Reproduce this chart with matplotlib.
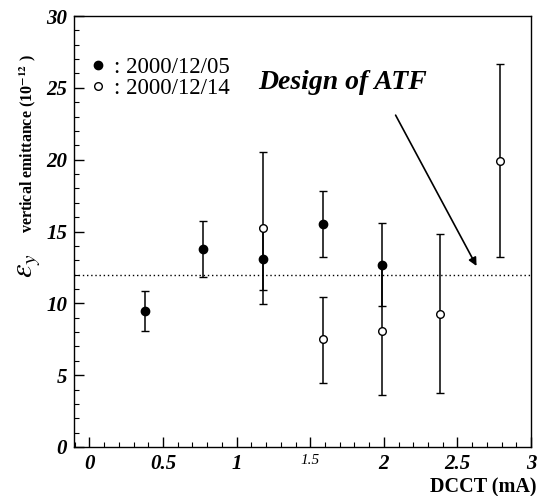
import numpy as np
import matplotlib.pyplot as plt
from matplotlib.ticker import MultipleLocator

# emittance measurements, two dates
# 2000/12/05 (filled)
x_a = np.array([0.38, 0.77, 1.18, 1.59, 1.99])
y_a = np.array([9.46, 13.8, 13.1, 15.5, 12.7])
lo_a = np.array([8.1, 11.8, 10.9, 13.2, 9.8])
hi_a = np.array([10.85, 15.75, 15.3, 17.85, 15.6])

# 2000/12/14 (open)
x_b = np.array([1.18, 1.59, 1.99, 2.385, 2.79])
y_b = np.array([15.27, 7.5, 8.1, 9.25, 19.9])
lo_b = np.array([9.97, 4.46, 3.65, 3.79, 13.25])
hi_b = np.array([20.5, 10.46, 12.55, 14.8, 26.65])

design = 12.0

xticks = [0, 0.5, 1, 1.5, 2, 2.5, 3]
xtick_labels = ['0', '0.5', '1', '1.5', '2', '2.5', '3']
yticks = [0, 5, 10, 15, 20, 25, 30]

plt.rcParams['font.family'] = ['Liberation Serif', 'DejaVu Serif']
plt.rcParams['mathtext.fontset'] = 'stix'

fig = plt.figure(figsize=(5.45, 4.96), dpi=100)
ax = fig.add_axes([0.1358, 0.0988, 0.8385, 0.8689])

# error bars first, then markers on top
ax.errorbar(x_a, y_a, yerr=[y_a - lo_a, hi_a - y_a], fmt='none',
            ecolor='black', elinewidth=1.1, capsize=3, capthick=1)
ax.errorbar(x_b, y_b, yerr=[y_b - lo_b, hi_b - y_b], fmt='none',
            ecolor='black', elinewidth=1.1, capsize=3, capthick=1)
ax.plot(x_a, y_a, 'o', color='black', markersize=6, label=': 2000/12/05')
ax.plot(x_b, y_b, 'o', markerfacecolor='white', markeredgecolor='black',
        markeredgewidth=1, markersize=5.5, label=': 2000/12/14')

ax.axhline(design, color='black', linestyle=(0, (1, 2)), linewidth=1)

ax.annotate('', xy=(2.63, 12.6), xytext=(2.08, 23.1),
            arrowprops=dict(arrowstyle='-|>', color='black', lw=1.2,
                            mutation_scale=12, shrinkA=0, shrinkB=0))
ax.text(1.145, 25.4, 'Design of ATF', fontsize=20, fontweight='bold',
        fontstyle='italic', ha='left', va='center')

ax.set_xlim(-0.105, 3.0)
ax.set_ylim(0, 30)
ax.set_xticks(xticks)
ax.set_xticklabels(xtick_labels)
ax.set_yticks(yticks)
ax.xaxis.set_minor_locator(MultipleLocator(0.1))
ax.yaxis.set_minor_locator(MultipleLocator(1))
ax.tick_params(which='both', direction='in', top=False, right=False)
ax.tick_params(which='major', length=7, width=1, pad=5)
ax.tick_params(which='minor', length=3.5, width=0.8)
for lab in ax.get_xticklabels() + ax.get_yticklabels():
    lab.set_fontsize(15)
    lab.set_fontweight('bold')
    lab.set_fontstyle('italic')
ax.get_xticklabels()[3].set_fontsize(11)
ax.get_xticklabels()[3].set_fontweight('normal')

leg = ax.legend(loc='upper left', frameon=False, fontsize=16.5,
                handletextpad=0.1, handlelength=1.2, labelspacing=0.02,
                bbox_to_anchor=(-0.012, 0.943), borderaxespad=0.3)

fig.text(0.985, 0.008, 'DCCT (mA)', fontsize=14.5, fontweight='bold',
         ha='right', va='baseline')
fig.text(0.05, 0.465, r'$\varepsilon_y$', fontsize=22, rotation=90,
         ha='center', va='center')
fig.text(0.05, 0.71, r'vertical emittance (10$^{\mathbf{-12}}$ )', fontsize=11.5,
         fontweight='bold', rotation=90, ha='center', va='center')

for s in ax.spines.values():
    s.set_linewidth(1)

fig.savefig('out.png', dpi=100)
